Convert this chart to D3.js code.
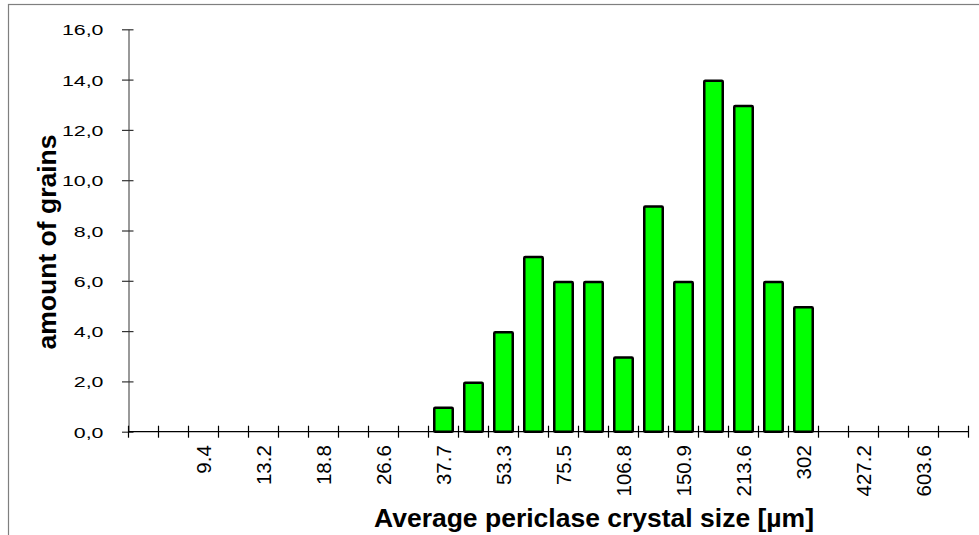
<!DOCTYPE html>
<html>
<head>
<meta charset="utf-8">
<script src="https://cdnjs.cloudflare.com/ajax/libs/d3/7.8.5/d3.min.js"></script>
<style>
  html, body { margin: 0; padding: 0; background: #fff; }
  svg { display: block; font-family: "Liberation Sans", Arial, sans-serif; }
</style>
</head>
<body>
<svg id="chart" width="979" height="535"></svg>
<script>
// ---- data ----
const binLabels = ["", "", "9.4", "", "13.2", "", "18.8", "", "26.6", "", "37.7", "", "53.3", "",
                   "75.5", "", "106.8", "", "150.9", "", "213.6", "", "302", "", "427.2", "", "603.6", ""];
const counts    = [0, 0, 0, 0, 0, 0, 0, 0, 0, 0, 1, 2, 4, 7, 6, 6, 3, 9, 6, 14, 13, 6, 5, 0, 0, 0, 0, 0];
const yTicks    = [0, 2, 4, 6, 8, 10, 12, 14, 16];
const yTitle    = "amount of grains";
const xTitle    = "Average periclase crystal size [µm]";

// ---- layout ----
const W = 979, H = 535;
const plot = { left: 128.5, right: 968.5, top: 29.3, bottom: 431.7 };

const svg = d3.select("#chart");

// outer frame (extends past the right and bottom edges)
svg.append("rect")
  .attr("x", 8.5).attr("y", 4.5)
  .attr("width", W + 20).attr("height", H + 20)
  .attr("fill", "none").attr("stroke", "#7f7f7f").attr("stroke-width", 1.2);

const idx = d3.range(binLabels.length);
const x = d3.scaleBand().domain(idx).range([plot.left, plot.right]).paddingInner(0).paddingOuter(0);
const y = d3.scaleLinear().domain([0, 16]).range([plot.bottom, plot.top]);

// ---- bars ----
const barOuter = x.bandwidth() * 0.70;
const sw = 2.5;
svg.append("g").selectAll("rect")
  .data(idx.filter(i => counts[i] > 0))
  .join("rect")
  .attr("x", i => x(i) + (x.bandwidth() - barOuter) / 2 + sw / 2)
  .attr("width", barOuter - sw)
  .attr("y", i => y(counts[i]) + sw / 2)
  .attr("height", i => y(0) - y(counts[i]) - sw / 2)
  .attr("rx", 1)
  .attr("fill", "#00ff00")
  .attr("stroke", "#000")
  .attr("stroke-width", sw);

// ---- y axis ----
const fmt = d3.format(".1f");
const gy = svg.append("g")
  .attr("transform", `translate(${plot.left},0)`)
  .call(d3.axisLeft(y).tickValues(yTicks).tickSizeOuter(0).tickFormat(d => fmt(d).replace(".", ",")));
gy.select(".domain").attr("stroke", "#555").attr("stroke-width", 1.2);
gy.selectAll(".tick line").attr("x1", -6.5).attr("x2", 5).attr("stroke", "#333").attr("stroke-width", 1.2);
gy.selectAll(".tick text")
  .attr("x", 0).attr("dy", "0.36em")
  .attr("transform", "translate(-25,0) scale(1.38,1)")
  .attr("font-size", 15.5)
  .attr("font-family", "Liberation Sans, Arial, sans-serif")
  .attr("fill", "#000");

// ---- x axis ----
const gx = svg.append("g").attr("transform", `translate(0,${plot.bottom})`);
gx.append("line")
  .attr("x1", x(0)).attr("x2", x(idx[idx.length - 1]) + x.bandwidth())
  .attr("stroke", "#000").attr("stroke-width", 1.2);
const boundaries = idx.map(i => x(i)).concat([x(idx[idx.length - 1]) + x.bandwidth()]);
gx.selectAll("line.tk").data(boundaries).join("line")
  .attr("class", "tk")
  .attr("x1", d => d).attr("x2", d => d)
  .attr("y1", -6).attr("y2", 6)
  .attr("stroke", "#000").attr("stroke-width", 1.2);

const gxl = svg.append("g")
  .attr("transform", `translate(0,${plot.bottom})`)
  .call(d3.axisBottom(x).tickValues(idx.filter(i => binLabels[i] !== "")).tickSize(0).tickFormat(i => binLabels[i]));
gxl.select(".domain").remove();
gxl.selectAll(".tick text")
  .attr("transform", "rotate(-90)")
  .attr("text-anchor", "end")
  .attr("x", -13.5).attr("y", 0).attr("dy", "0.36em")
  .attr("font-size", 20.5)
  .attr("font-family", "Liberation Sans, Arial, sans-serif")
  .attr("fill", "#000");

// ---- titles ----
svg.append("text")
  .attr("transform", `translate(56,242) rotate(-90)`)
  .attr("text-anchor", "middle")
  .attr("font-size", 26.5).attr("font-weight", "bold")
  .text(yTitle);

svg.append("text")
  .attr("x", 594).attr("y", 526.5)
  .attr("text-anchor", "middle")
  .attr("font-size", 26.5).attr("font-weight", "bold")
  .text(xTitle);
</script>
</body>
</html>
